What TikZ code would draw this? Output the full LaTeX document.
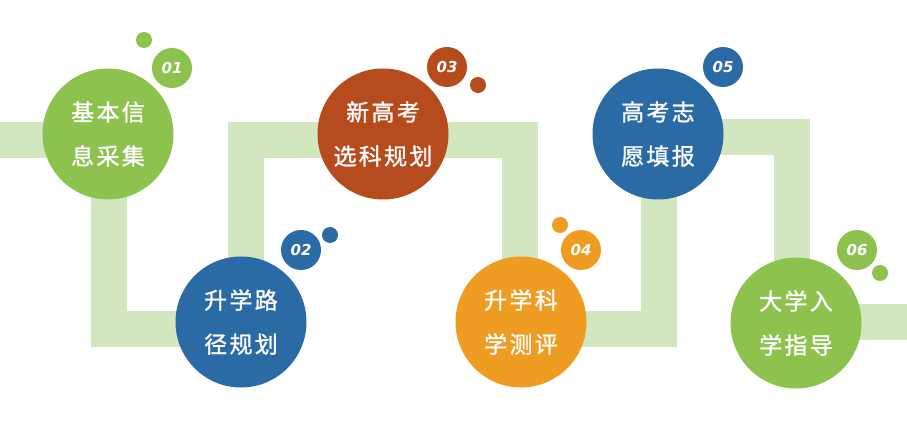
\documentclass[tikz,border=0pt]{standalone}
\usepackage{fontspec}
\newfontfamily\cjk{Noto Sans CJK SC}[LetterSpace=10,FakeBold=1.2]
\newfontfamily\numfont{DejaVu Sans}
\definecolor{cgreen}{HTML}{8DC24E}
\definecolor{cblue}{HTML}{2A6BA6}
\definecolor{crust}{HTML}{B64B1D}
\definecolor{corange}{HTML}{EF9C22}
\definecolor{cband}{HTML}{D2E7BF}
\begin{document}
\begin{tikzpicture}[x=1pt,y=-1pt,
  bigc/.style={circle,minimum size=131pt,inner sep=0pt,text=white,align=center,
    font=\cjk\fontsize{23}{44}\selectfont},
  badge/.style={circle,minimum size=40pt,inner sep=0pt,text=white,
    font=\numfont\bfseries\itshape\fontsize{15}{15}\selectfont},
  dotc/.style={circle,minimum size=16pt,inner sep=0pt},
  band/.style={draw=cband,line width=36pt}]
\useasboundingbox (0,0) rectangle (907,427);
% band coordinates
\coordinate (b0) at (-5,140);
\coordinate (b1) at (109,140);
\coordinate (b2) at (109,329);
\coordinate (b3) at (246,329);
\coordinate (b4) at (246,140);
\coordinate (b5) at (520,140);
\coordinate (b6) at (520,329);
\coordinate (b7) at (659,329);
\coordinate (b8) at (659,137);
\coordinate (b9) at (792,137);
\coordinate (b10) at (792,322);
\coordinate (b11) at (912,322);
\draw[band] (b0) -- (b1) -- (b2) -- (b3) -- (b4) -- (b5) -- (b6) -- (b7) -- (b8) -- (b9) -- (b10) -- (b11);
% circles
\node[bigc,fill=cgreen] (c1) at (108,134) {基本信\\息采集};
\node[bigc,fill=cblue] (c2) at (241,322) {升学路\\径规划};
\node[bigc,fill=crust] (c3) at (383,134) {新高考\\选科规划};
\node[bigc,fill=corange] (c4) at (521,322) {升学科\\学测评};
\node[bigc,fill=cblue] (c5) at (658,134) {高考志\\愿填报};
\node[bigc,fill=cgreen] (c6) at (796,323) {大学入\\学指导};
% badges
\node[badge,fill=cgreen] (n1) at (172,68) {01};
\node[badge,fill=cblue] (n2) at (301,250) {02};
\node[badge,fill=crust] (n3) at (447,67) {03};
\node[badge,fill=corange] (n4) at (581,250) {04};
\node[badge,fill=cblue] (n5) at (723,67) {05};
\node[badge,fill=cgreen] (n6) at (857,250) {06};
% dots
\node[dotc,fill=cgreen] (d1) at (144,40) {};
\node[dotc,fill=cblue] (d2) at (330,235) {};
\node[dotc,fill=crust] (d3) at (478,85) {};
\node[dotc,fill=corange] (d4) at (560,225) {};
\node[dotc,fill=cgreen] (d6) at (880,273) {};
\end{tikzpicture}
\end{document}
